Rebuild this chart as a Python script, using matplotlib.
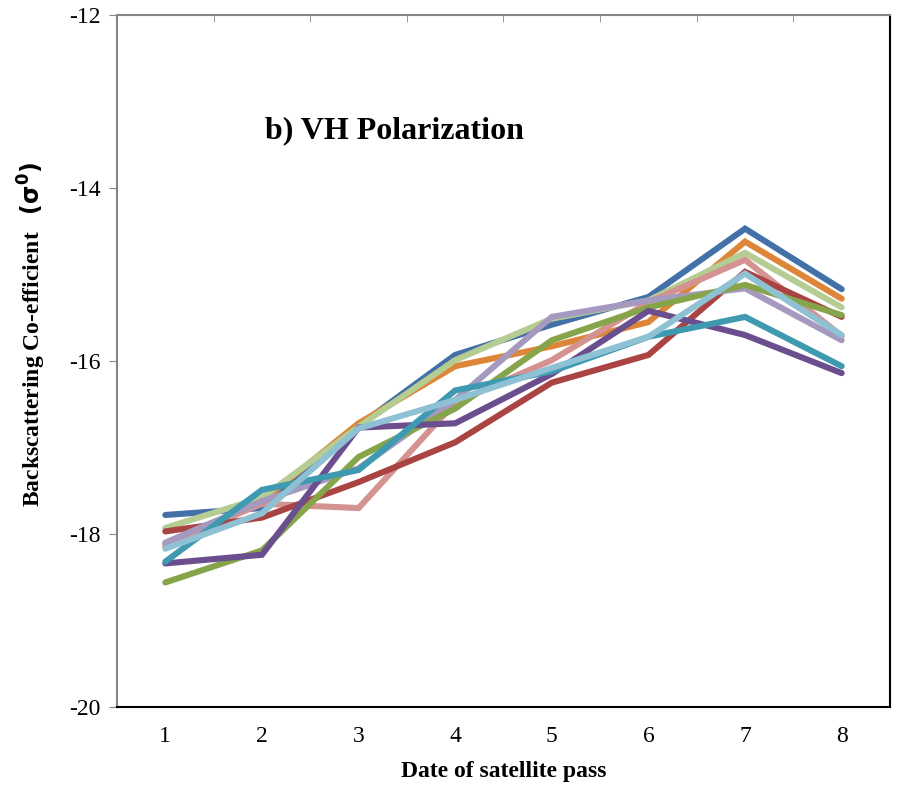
import numpy as np
import matplotlib
matplotlib.use("Agg")
import matplotlib.pyplot as plt

plt.rcParams['font.family'] = ['Liberation Serif', 'DejaVu Serif']
plt.rcParams['axes.unicode_minus'] = False

passes = [1, 2, 3, 4, 5, 6, 7, 8]

# backscatter (dB) per series
blue = [-17.78, -17.70, -16.75, -15.93, -15.58, -15.26, -14.47, -15.17]
orange = [-18.15, -17.62, -16.72, -16.06, -15.83, -15.55, -14.62, -15.28]
light_green = [-17.93, -17.58, -16.76, -15.99, -15.51, -15.30, -14.75, -15.38]
pink = [-18.12, -17.65, -17.70, -16.48, -15.99, -15.32, -14.83, -15.71]
red = [-17.97, -17.81, -17.40, -16.94, -16.25, -15.93, -14.97, -15.49]
light_purple = [-18.10, -17.62, -17.24, -16.45, -15.49, -15.30, -15.16, -15.76]
green = [-18.56, -18.19, -17.11, -16.55, -15.76, -15.38, -15.12, -15.47]
purple = [-18.34, -18.24, -16.77, -16.72, -16.15, -15.42, -15.70, -16.14]
teal = [-18.32, -17.49, -17.26, -16.34, -16.12, -15.72, -15.49, -16.06]
light_blue = [-18.17, -17.76, -16.78, -16.45, -16.08, -15.72, -14.99, -15.70]

series = [
    (blue, '#4470A8'),
    (orange, '#DD8538'),
    (light_green, '#B5CC93'),
    (pink, '#D49391'),
    (red, '#A94442'),
    (light_purple, '#A699BF'),
    (green, '#86A54A'),
    (purple, '#6B4E8E'),
    (teal, '#3E9AB0'),
    (light_blue, '#8FC1D5'),
]

fig = plt.figure(figsize=(9.02, 7.89), dpi=100)
ax = fig.add_axes([0.1297, 0.1039, 0.8570, 0.8771])

for vals, col in series:
    ax.plot(passes, vals, color=col, linewidth=4.4, solid_capstyle='round',
            solid_joinstyle='miter')

ax.set_xlim(0.5, 8.5)
ax.set_ylim(-20, -12)
ax.set_yticks([-20, -18, -16, -14, -12])
ax.set_xticks(passes)
ax.set_xticks([1.5, 2.5, 3.5, 4.5, 5.5, 6.5, 7.5], minor=True)
ax.tick_params(axis='x', which='major', length=0, pad=14, labelsize=17)
ax.tick_params(axis='x', which='minor', top=True, bottom=False,
               direction='in', length=5, color='#868686')
ax.tick_params(axis='y', which='major', direction='out', length=6,
               color='#868686', labelsize=17, pad=6)

for side in ['left', 'top']:
    ax.spines[side].set_color('#868686')
    ax.spines[side].set_linewidth(1.5)
for side in ['bottom', 'right']:
    ax.spines[side].set_color('black')
    ax.spines[side].set_linewidth(1.5)

ax.set_xlabel('Date of satellite pass', fontsize=17, fontweight='bold',
              labelpad=10)
ax.set_ylabel(r'Backscattering Co-efficient   $\mathbf{(\sigma^0)}$',
              fontsize=17, fontweight='bold')
ax.yaxis.set_label_coords(-0.089, 0.5376)

ax.text(0.192, 0.822, 'b) VH Polarization', transform=ax.transAxes,
        fontsize=23, fontweight='bold')

fig.savefig('out.png', dpi=100)
